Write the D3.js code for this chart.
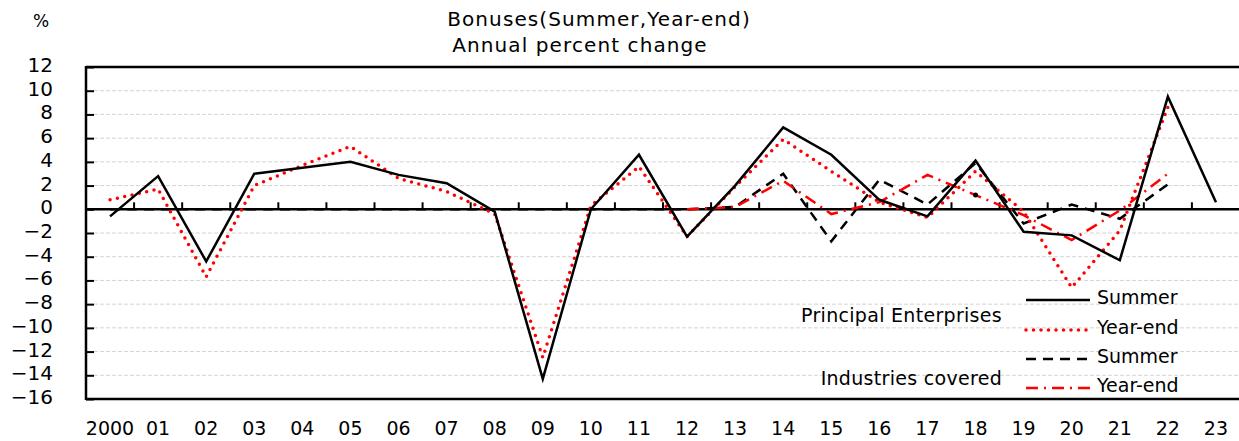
<!DOCTYPE html>
<html>
<head>
<meta charset="utf-8">
<script src="https://cdn.jsdelivr.net/npm/d3@7"></script>
<style>
  html, body { margin: 0; padding: 0; background: #fff; }
  svg text { font-family: "DejaVu Sans", sans-serif; fill: #000; }
</style>
</head>
<body>
<div id="plot"></div>
<script>
// categories (fiscal years)
var years = ["2000", "01", "02", "03", "04", "05", "06", "07", "08", "09", "10", "11",
             "12", "13", "14", "15", "16", "17", "18", "19", "20", "21", "22", "23"];

// Principal Enterprises
var peSummer  = [-0.6, 2.8, -4.4, 3.0, 3.5, 4.0, 2.9, 2.2, -0.2, -14.3, 0.0, 4.6,
                 -2.3, 2.0, 6.9, 4.6, 0.8, -0.6, 4.1, -1.9, -2.2, -4.3, 9.5, 0.6];
var peYearEnd = [0.8, 1.7, -5.7, 2.0, 3.7, 5.3, 2.6, 1.5, -0.4, -12.5, 0.3, 3.6,
                 -2.3, 1.9, 5.9, 3.2, 0.6, -0.7, 3.2, -0.2, -6.6, -1.8, 8.6, null];

// Industries covered
var icSummer  = [0, 0, 0, 0, 0, 0, 0, 0, 0, 0, 0, 0,
                 0.0, 0.2, 3.0, -2.7, 2.5, 0.4, 3.9, -1.2, 0.4, -0.8, 2.1, null];
var icYearEnd = [null, null, null, null, null, null, null, null, null, null, null, null,
                 0.0, 0.2, 2.4, -0.4, 0.6, 2.9, 1.2, -0.5, -2.6, -0.1, 3.0, null];

var yTicks = [12, 10, 8, 6, 4, 2, 0, -2, -4, -6, -8, -10, -12, -14, -16];

var w = 1239, h = 441;
var padL = 86, padT = 67, padB = 399, padR = 1240;

var svg = d3.select("#plot")
    .append("svg")
    .attr("width", w)
    .attr("height", h);

var xScale = d3.scaleBand()
    .domain(years)
    .range([padL, padR]);

var yScale = d3.scaleLinear()
    .domain([-16, 12])
    .range([padB, padT]);

var cx = function (i) { return xScale(years[i]) + xScale.bandwidth() / 2; };

// gridlines
svg.append("g")
    .selectAll("line")
    .data(yTicks.filter(function (d) { return d != 0 && d != 12 && d != -16; }))
    .enter()
    .append("line")
    .attr("x1", padL + 8).attr("x2", w)
    .attr("y1", function (d) { return yScale(d); })
    .attr("y2", function (d) { return yScale(d); })
    .attr("stroke", "#d4d4d4")
    .attr("stroke-width", 1)
    .attr("stroke-dasharray", "4,2");

// frame: left axis, top and bottom borders
svg.append("line").attr("x1", padL).attr("x2", padL).attr("y1", padT - 1).attr("y2", padB + 1)
    .attr("stroke", "#000").attr("stroke-width", 2.5);
svg.append("line").attr("x1", padL).attr("x2", w).attr("y1", padT).attr("y2", padT)
    .attr("stroke", "#000").attr("stroke-width", 2.5);
svg.append("line").attr("x1", padL).attr("x2", w).attr("y1", padB).attr("y2", padB)
    .attr("stroke", "#000").attr("stroke-width", 2.5);

// y axis ticks (inside) and labels
var yAxis = d3.axisRight(yScale)
    .tickValues(yTicks)
    .tickSize(8)
    .tickFormat("");
svg.append("g")
    .attr("transform", "translate(" + padL + ",0)")
    .call(yAxis)
    .call(function (g) {
        g.select(".domain").remove();
        g.selectAll(".tick line").attr("stroke", "#000").attr("stroke-width", 2);
    });

svg.append("g")
    .selectAll("text")
    .data(yTicks)
    .enter()
    .append("text")
    .attr("x", 53)
    .attr("y", function (d) { return yScale(d) + 5; })
    .attr("text-anchor", "end")
    .style("font-size", "20px")
    .text(function (d) { return d < 0 ? "\u2212" + Math.abs(d) : d; });

svg.append("text")
    .attr("x", 41).attr("y", 27)
    .attr("text-anchor", "middle")
    .style("font-size", "17px")
    .text("%");

// industries covered summer drawn under the zero line
var line = d3.line()
    .defined(function (d) { return d != null; })
    .x(function (d, i) { return cx(i); })
    .y(function (d) { return yScale(d); });

svg.append("path")
    .datum(icSummer)
    .attr("d", line)
    .attr("fill", "none")
    .attr("stroke", "#000")
    .attr("stroke-width", 2.5)
    .attr("stroke-dasharray", "10,7");

// zero line with category ticks
svg.append("line")
    .attr("x1", padL).attr("x2", w)
    .attr("y1", yScale(0)).attr("y2", yScale(0))
    .attr("stroke", "#000").attr("stroke-width", 2.5);

svg.append("g")
    .selectAll("line")
    .data(years.slice(1))
    .enter()
    .append("line")
    .attr("x1", function (d) { return xScale(d); })
    .attr("x2", function (d) { return xScale(d); })
    .attr("y1", yScale(0))
    .attr("y2", yScale(0) - 7)
    .attr("stroke", "#000")
    .attr("stroke-width", 2);

// x labels
svg.append("g")
    .selectAll("text")
    .data(years)
    .enter()
    .append("text")
    .attr("x", function (d) { return xScale(d) + xScale.bandwidth() / 2; })
    .attr("y", 435)
    .attr("text-anchor", "middle")
    .style("font-size", "19px")
    .text(function (d) { return d; });

// series
svg.append("path")
    .datum(icYearEnd)
    .attr("d", line)
    .attr("fill", "none")
    .attr("stroke", "#ff0000")
    .attr("stroke-width", 2.5)
    .attr("stroke-dasharray", "12,6,2,6");

svg.append("circle")
    .attr("cx", cx(18)).attr("cy", yScale(icYearEnd[18]))
    .attr("r", 2.5).attr("fill", "#000");

svg.append("path")
    .datum(peYearEnd)
    .attr("d", line)
    .attr("fill", "none")
    .attr("stroke", "#ff0000")
    .attr("stroke-width", 3.5)
    .attr("stroke-linecap", "round")
    .attr("stroke-dasharray", "0,7.5");

svg.append("path")
    .datum(peSummer)
    .attr("d", line)
    .attr("fill", "none")
    .attr("stroke", "#000")
    .attr("stroke-width", 2.5);

// title
svg.append("text")
    .attr("x", 599).attr("y", 26)
    .attr("text-anchor", "middle")
    .style("font-size", "20px")
    .style("letter-spacing", "1.1px")
    .text("Bonuses(Summer,Year-end)");
svg.append("text")
    .attr("x", 580).attr("y", 52)
    .attr("text-anchor", "middle")
    .style("font-size", "20px")
    .style("letter-spacing", "1.1px")
    .text("Annual percent change");

// legend
var legendItems = [
    { label: "Summer", y: 300, stroke: "#000", width: 2.5, dash: null, cap: "butt" },
    { label: "Year-end", y: 330, stroke: "#ff0000", width: 3.5, dash: "0,7.5", cap: "round" },
    { label: "Summer", y: 359, stroke: "#000", width: 2.5, dash: "10,7", cap: "butt" },
    { label: "Year-end", y: 388, stroke: "#ff0000", width: 2.5, dash: "12,6,2,6", cap: "butt" }
];
var lg = svg.append("g")
    .selectAll("g")
    .data(legendItems)
    .enter()
    .append("g");
lg.append("line")
    .attr("x1", 1026).attr("x2", 1090)
    .attr("y1", function (d) { return d.y; })
    .attr("y2", function (d) { return d.y; })
    .attr("stroke", function (d) { return d.stroke; })
    .attr("stroke-width", function (d) { return d.width; })
    .attr("stroke-linecap", function (d) { return d.cap; })
    .attr("stroke-dasharray", function (d) { return d.dash; });
lg.append("text")
    .attr("x", 1097)
    .attr("y", function (d) { return d.y + 4; })
    .style("font-size", "19px")
    .text(function (d) { return d.label; });

svg.append("text")
    .attr("x", 1002).attr("y", 322)
    .attr("text-anchor", "end")
    .style("font-size", "19px")
    .style("letter-spacing", "0.3px")
    .text("Principal Enterprises");
svg.append("text")
    .attr("x", 1002).attr("y", 385)
    .attr("text-anchor", "end")
    .style("font-size", "19px")
    .style("letter-spacing", "0.3px")
    .text("Industries covered");
</script>
</body>
</html>
